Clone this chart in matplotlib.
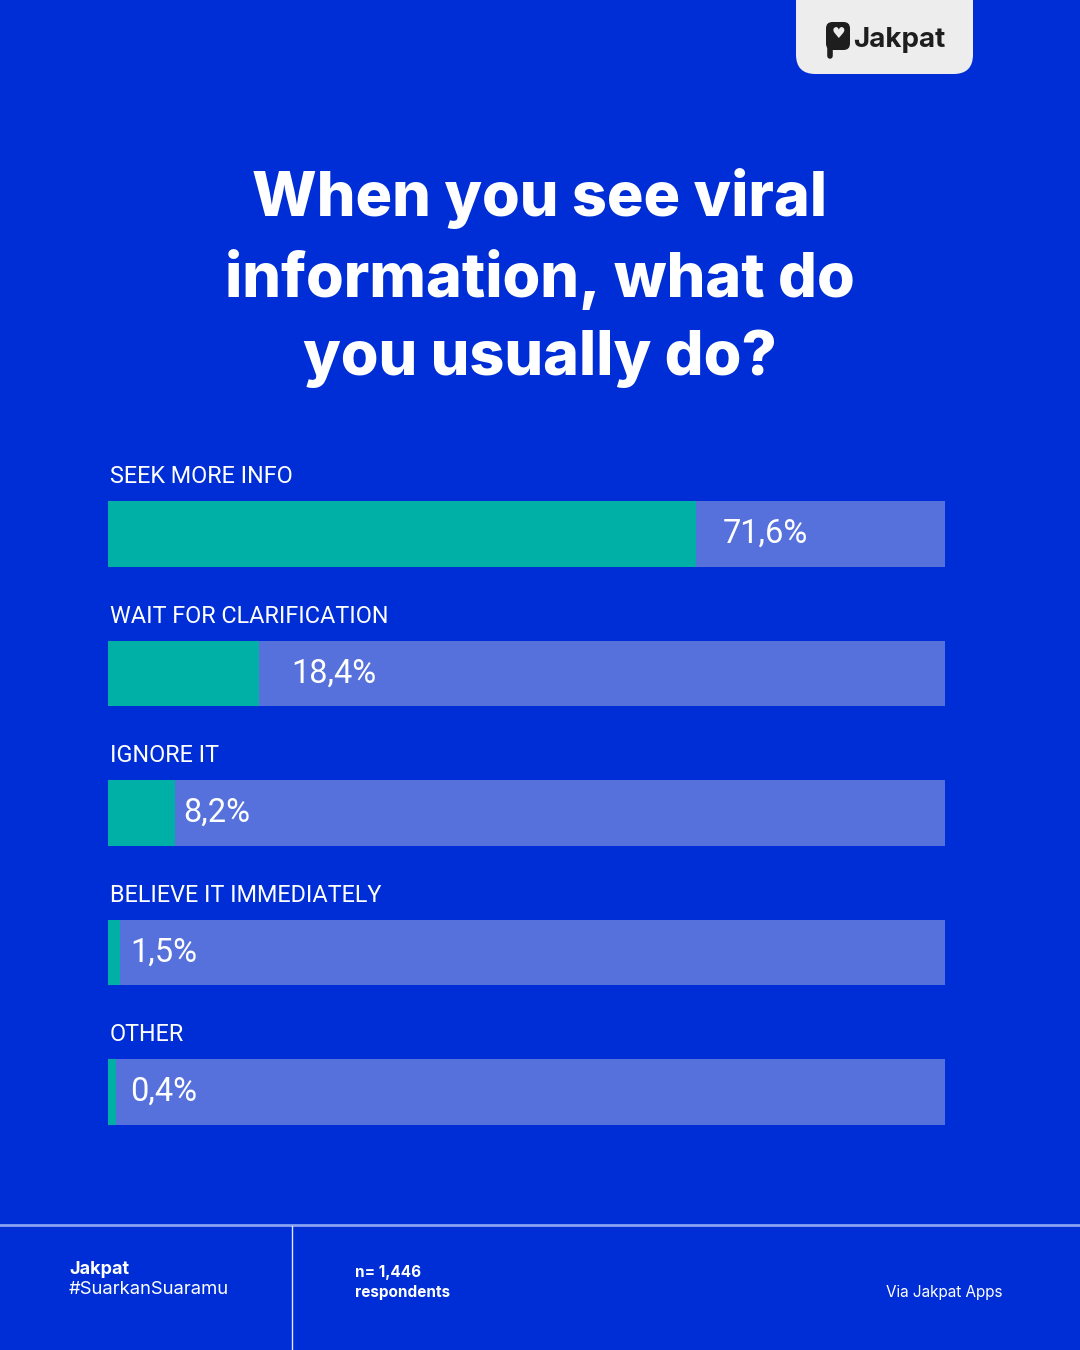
import matplotlib
matplotlib.use("Agg")
import matplotlib.pyplot as plt
from matplotlib.patches import FancyBboxPatch
from matplotlib.lines import Line2D

# survey answers (Jakpat, n = 1,446)
categories = ["SEEK MORE INFO", "WAIT FOR CLARIFICATION", "IGNORE IT",
              "BELIEVE IT IMMEDIATELY", "OTHER"]
values = [71.6, 18.4, 8.2, 1.5, 0.4]

title = "When you see viral\ninformation, what do\nyou usually do?"
footer_brand = "Jakpat"
footer_tag = "#SuarkanSuaramu"
footer_n = "n= 1,446"
footer_resp = "respondents"
footer_source = "Via Jakpat Apps"

BG = "#002ed6"
TRACK = "#5671dc"
TEAL = "#00afa5"
W, H = 1080, 1350
XMAX = 102  # track is drawn slightly longer than 100 in the original

plt.rcParams["font.family"] = ["Inter", "DejaVu Sans"]

fig = plt.figure(figsize=(W / 100, H / 100), dpi=100)
fig.patch.set_facecolor(BG)


def fx(px):
    return px / W


def fy(py):
    return 1 - py / H


# logo box on top
logo = FancyBboxPatch((fx(796), fy(74)), fx(973) - fx(796), fy(0) - fy(74) + 0.03,
                      boxstyle="round,pad=0,rounding_size=0.018",
                      transform=fig.transFigure, facecolor="#ededed",
                      edgecolor="none", mutation_aspect=W / H)
fig.patches.append(logo)
icon = FancyBboxPatch((fx(826), fy(50)), fx(850) - fx(826), fy(22) - fy(50),
                      boxstyle="round,pad=0,rounding_size=0.006",
                      transform=fig.transFigure, facecolor="#1e1e1e",
                      edgecolor="none", mutation_aspect=W / H)
fig.patches.append(icon)
fig.add_artist(Line2D([fx(830), fx(830)], [fy(48), fy(56)], color="#1e1e1e",
                      lw=4, solid_capstyle="round", transform=fig.transFigure))
fig.text(fx(838), fy(33), "\u2665", color="#ededed", fontsize=11,
         ha="center", va="center", family="DejaVu Sans")
fig.text(fx(853), fy(40), "Jakpat", color="#1e1e1e", fontsize=20,
         fontweight="bold", ha="left", va="center")

# title
fig.text(0.5, fy(278), title, color="white", fontsize=44, fontweight="heavy",
         ha="center", va="center", linespacing=1.43)

# bars
ax = fig.add_axes([fx(108), fy(1161.75), fx(945) - fx(108), (1161.75 - 464.25) / H])
ax.set_facecolor(BG)
ypos = list(range(len(categories)))
shown = [max(v, 1.0) for v in values]
ax.barh(ypos, [XMAX] * len(values), height=0.473, color=TRACK)
ax.barh(ypos, shown, height=0.473, color=TEAL)
ax.set_xlim(0, XMAX)
ax.set_ylim(len(categories) - 0.5, -0.5)
ax.axis("off")

pads = [3.3, 4.0, 1.0, 1.2, 1.7]
for i, (cat, v) in enumerate(zip(categories, values)):
    ax.text(0.25, i - 0.41, cat, color="white", fontsize=16.8, ha="left",
            va="center", family=["Roboto", "DejaVu Sans"])
    label = "{:.1f}%".format(v).replace(".", ",")
    ax.text(shown[i] + pads[i], i, label, color="white", fontsize=23.5,
            ha="left", va="center", family=["Roboto", "DejaVu Sans"])

# footer
fig.add_artist(Line2D([0, 1], [fy(1225), fy(1225)], color="#8aa2f2", lw=2,
                      transform=fig.transFigure))
fig.add_artist(Line2D([fx(292), fx(292)], [fy(1226), 0], color="#dfe6ff", lw=1,
                      transform=fig.transFigure))
fig.text(fx(69), fy(1269), footer_brand, color="white", fontsize=13,
         fontweight="bold", va="center")
fig.text(fx(69), fy(1290), footer_tag, color="white", fontsize=13.3, va="center")
fig.text(fx(355), fy(1272), footer_n, color="white", fontsize=11,
         fontweight="bold", va="center")
fig.text(fx(355), fy(1292), footer_resp, color="white", fontsize=11,
         fontweight="bold", va="center")
fig.text(fx(1003), fy(1292), footer_source, color="white", fontsize=11,
         ha="right", va="center")

fig.savefig("out.png", dpi=100, facecolor=BG)
